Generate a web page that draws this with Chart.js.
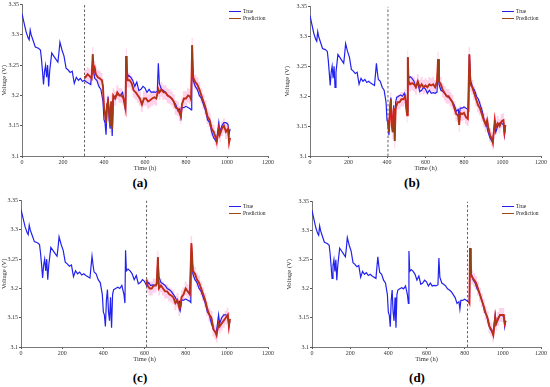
<!DOCTYPE html>
<html lang="en">
<head>
<meta charset="UTF-8">
<title>Voltage prediction</title>
<style>
  body { margin: 0; background: #fff; width: 550px; height: 387px; position: relative; overflow: hidden; font-family: "Liberation Serif", serif; }
  canvas { position: absolute; }
  .tag { position: absolute; font-weight: bold; font-size: 13px; transform: translate(-50%, -50%); }
  .lg { position: absolute; font-size: 5.5px; line-height: 6.5px; color: #222; }
  .lg span.ln { display: inline-block; width: 12px; height: 0; vertical-align: middle; margin-right: 2px; }
</style>
</head>
<body>
<canvas id="ca"></canvas>
<canvas id="cb"></canvas>
<canvas id="cc"></canvas>
<canvas id="cd"></canvas>
<div class="tag" style="left:140px;top:183px">(a)</div>
<div class="tag" style="left:412px;top:183px">(b)</div>
<div class="tag" style="left:140px;top:378px">(c)</div>
<div class="tag" style="left:417px;top:378px">(d)</div>
<div class="lg" style="left:229px;top:8px"><div><span class="ln" style="border-top:1.3px solid #2222ee"></span>True</div><div><span class="ln" style="border-top:1.3px solid #9a4a1a"></span>Prediction</div></div>
<div class="lg" style="left:502px;top:8px"><div><span class="ln" style="border-top:1.3px solid #2222ee"></span>True</div><div><span class="ln" style="border-top:1.3px solid #9a4a1a"></span>Prediction</div></div>
<div class="lg" style="left:229px;top:203px"><div><span class="ln" style="border-top:1.3px solid #2222ee"></span>True</div><div><span class="ln" style="border-top:1.3px solid #9a4a1a"></span>Prediction</div></div>
<div class="lg" style="left:502px;top:203px"><div><span class="ln" style="border-top:1.3px solid #2222ee"></span>True</div><div><span class="ln" style="border-top:1.3px solid #9a4a1a"></span>Prediction</div></div>

<script src="https://cdn.jsdelivr.net/npm/chart.js"></script>
<script>
// measured voltage (same in every panel)
const trueTime = [0,10,20,30,35,40,45,55,65,80,90,95,100,105,110,115,120,125,130,135,145,155,165,175,180,185,195,205,215,225,235,245,255,265,275,285,295,305,315,325,335,345,350,355,365,375,385,395,400,405,410,415,420,425,430,435,440,445,450,460,470,480,490,500,505,508,512,520,530,540,550,560,570,580,590,600,610,620,630,640,650,660,665,670,680,690,700,710,720,730,740,750,760,770,775,780,790,800,810,820,825,828,835,845,855,865,875,885,895,905,915,925,935,945,950,960,965,975,985,995,1005,1010,1015];
const trueVolt = [3.335,3.32,3.305,3.295,3.292,3.308,3.30,3.29,3.28,3.278,3.275,3.26,3.24,3.218,3.24,3.25,3.23,3.25,3.215,3.24,3.27,3.265,3.26,3.255,3.27,3.288,3.275,3.265,3.245,3.242,3.238,3.24,3.22,3.23,3.225,3.228,3.223,3.225,3.222,3.22,3.218,3.255,3.24,3.228,3.225,3.215,3.21,3.19,3.16,3.155,3.135,3.18,3.198,3.16,3.145,3.185,3.133,3.19,3.198,3.2,3.202,3.2,3.205,3.19,3.175,3.265,3.23,3.233,3.23,3.225,3.215,3.222,3.208,3.21,3.215,3.212,3.205,3.21,3.205,3.206,3.205,3.207,3.253,3.22,3.21,3.208,3.205,3.2,3.198,3.195,3.19,3.185,3.175,3.178,3.165,3.18,3.18,3.182,3.18,3.178,3.176,3.27,3.225,3.215,3.21,3.2,3.195,3.185,3.175,3.16,3.155,3.14,3.13,3.125,3.128,3.155,3.14,3.15,3.155,3.155,3.152,3.135,3.145];

// predictions, one per panel
const predTimeA = [305,310,320,330,340,345,350,355,360,370,380,390,395,400,405,410,415,420,425,430,435,440,445,455,465,475,485,495,505,508,515,525,535,545,555,565,575,585,595,605,615,625,635,645,655,665,670,680,690,700,710,720,730,740,750,760,770,775,780,790,800,810,820,825,830,835,845,855,865,875,885,895,905,915,925,935,945,950,960,965,975,985,995,1005,1010,1015];
const predVoltA = [3.232,3.23,3.235,3.232,3.228,3.268,3.24,3.245,3.235,3.23,3.228,3.225,3.215,3.18,3.17,3.155,3.185,3.19,3.175,3.15,3.19,3.145,3.2,3.195,3.205,3.2,3.2,3.195,3.178,3.265,3.225,3.225,3.22,3.208,3.205,3.2,3.195,3.185,3.195,3.195,3.19,3.192,3.195,3.197,3.195,3.21,3.205,3.21,3.205,3.205,3.2,3.198,3.195,3.19,3.18,3.178,3.17,3.165,3.185,3.195,3.195,3.2,3.198,3.193,3.283,3.23,3.222,3.218,3.21,3.2,3.19,3.18,3.165,3.16,3.145,3.14,3.13,3.123,3.145,3.135,3.145,3.15,3.14,3.145,3.122,3.13];

const predTimeB = [405,410,415,420,425,430,435,440,445,455,465,475,485,495,500,505,508,512,520,530,540,550,560,570,580,590,600,610,620,630,640,650,660,665,670,680,690,700,710,720,730,740,750,760,770,775,780,790,800,810,820,828,833,843,853,863,873,883,893,903,913,920,925,935,945,950,960,965,975,985,995,1005,1010,1015];
const predVoltB = [3.16,3.14,3.175,3.195,3.15,3.14,3.18,3.125,3.18,3.19,3.19,3.195,3.195,3.2,3.18,3.168,3.265,3.225,3.22,3.222,3.22,3.215,3.225,3.215,3.22,3.215,3.218,3.215,3.22,3.218,3.22,3.215,3.225,3.262,3.225,3.22,3.21,3.205,3.2,3.2,3.195,3.19,3.18,3.17,3.168,3.152,3.172,3.17,3.172,3.165,3.162,3.27,3.22,3.215,3.205,3.195,3.185,3.18,3.17,3.16,3.152,3.16,3.15,3.135,3.128,3.122,3.16,3.148,3.155,3.15,3.158,3.16,3.14,3.152];

const predTimeC = [610,615,625,635,645,655,660,665,670,680,690,700,710,720,730,740,750,760,770,775,780,790,800,810,820,828,835,845,855,865,875,885,895,905,915,925,935,945,950,960,965,975,985,995,1005,1010,1015];
const predVoltC = [3.215,3.205,3.2,3.2,3.205,3.205,3.21,3.253,3.2,3.205,3.2,3.195,3.195,3.19,3.188,3.185,3.175,3.18,3.165,3.17,3.185,3.19,3.2,3.195,3.19,3.277,3.23,3.225,3.215,3.21,3.2,3.19,3.18,3.165,3.155,3.15,3.13,3.125,3.12,3.14,3.135,3.14,3.145,3.15,3.155,3.135,3.148];

const predTimeD = [820,825,828,832,840,850,860,870,880,890,900,910,920,930,940,950,955,960,965,975,985,995,1005,1010,1015];
const predVoltD = [3.178,3.175,3.27,3.225,3.22,3.215,3.21,3.2,3.19,3.18,3.17,3.158,3.15,3.135,3.13,3.12,3.135,3.152,3.14,3.148,3.155,3.155,3.155,3.14,3.145];

const splitTimes = [305, 405, 610, 815];
const bandHalf = 0.012;   // half width of the pink uncertainty band
const xTicks = [0, 200, 400, 600, 800, 1000, 1200];
const yTicks = [3.1, 3.15, 3.2, 3.25, 3.3, 3.35];

const pts = (t, v) => t.map((x, i) => ({ x: x, y: v[i] }));

const font = { family: '"Liberation Serif", serif', size: 6 };

function panel(id, box, predT, predV, split) {
  const cv = document.getElementById(id);
  cv.style.left = box.left + 'px';
  cv.style.top = box.top + 'px';
  cv.style.width = box.w + 'px';
  cv.style.height = box.h + 'px';
  cv.width = box.w;
  cv.height = box.h;

  const pred = pts(predT, predV);
  const upper = pred.map(p => ({ x: p.x, y: p.y + bandHalf }));
  const lower = pred.map(p => ({ x: p.x, y: p.y - bandHalf }));

  new Chart(cv.getContext('2d'), {
    type: 'line',
    data: {
      datasets: [
        { label: 'Prediction', data: pred, borderColor: '#8b4513', borderWidth: 0.9, pointRadius: 0, tension: 0 },
        { label: 'pred-under', data: pred, borderColor: '#e41e1e', borderWidth: 1.9, pointRadius: 0, tension: 0 },
        { label: 'True', data: pts(trueTime, trueVolt), borderColor: '#2222ee', borderWidth: 1.2, pointRadius: 0, tension: 0 },
        { label: 'split', data: [{ x: split, y: 3.1 }, { x: split, y: 3.35 }], borderColor: '#555', borderWidth: 0.9, borderDash: [2.5, 2], pointRadius: 0 },
        { label: 'upper', data: upper, borderWidth: 0, pointRadius: 0, backgroundColor: 'rgba(255,165,215,0.5)', fill: '+1', stepped: 'middle' },
        { label: 'lower', data: lower, borderWidth: 0, pointRadius: 0, fill: false, stepped: 'middle' }
      ]
    },
    options: {
      responsive: false,
      animation: false,
      events: [],
      layout: { padding: { top: 3, right: 6, left: 0, bottom: 0 } },
      plugins: { legend: { display: false }, tooltip: { enabled: false } },
      scales: {
        x: {
          type: 'linear', min: 0, max: 1200,
          afterBuildTicks: s => { s.ticks = xTicks.map(v => ({ value: v })); },
          afterFit: s => { s.height = box.xh; },
          ticks: { font: font, color: '#333', padding: 1, maxRotation: 0, callback: v => String(v) },
          grid: { drawOnChartArea: false, tickLength: 2, color: '#555' },
          border: { color: '#555', width: 0.8 },
          title: { display: true, text: 'Time (h)', font: { family: font.family, size: 6.5 }, color: '#333', padding: 0 }
        },
        y: {
          type: 'linear', min: 3.1, max: 3.35,
          afterBuildTicks: s => { s.ticks = yTicks.map(v => ({ value: v })); },
          afterFit: s => { s.width = box.yw; },
          ticks: { font: font, color: '#333', padding: 1, callback: v => String(+v.toFixed(2)) },
          grid: { drawOnChartArea: false, tickLength: 2, color: '#555' },
          border: { color: '#555', width: 0.8 },
          title: { display: true, text: 'Voltage (V)', font: { family: font.family, size: 6.5 }, color: '#333', padding: 0 }
        }
      }
    }
  });
}

panel('ca', { left: 0, top: 0, w: 275, h: 172, yw: 22, xh: 16 }, predTimeA, predVoltA, splitTimes[0]);
panel('cb', { left: 283, top: 2, w: 265, h: 170, yw: 27, xh: 16 }, predTimeB, predVoltB, splitTimes[1]);
panel('cc', { left: 0, top: 196, w: 275, h: 167, yw: 21, xh: 16 }, predTimeC, predVoltC, splitTimes[2]);
panel('cd', { left: 285, top: 197, w: 263, h: 166, yw: 27, xh: 16 }, predTimeD, predVoltD, splitTimes[3]);
</script>
</body>
</html>
